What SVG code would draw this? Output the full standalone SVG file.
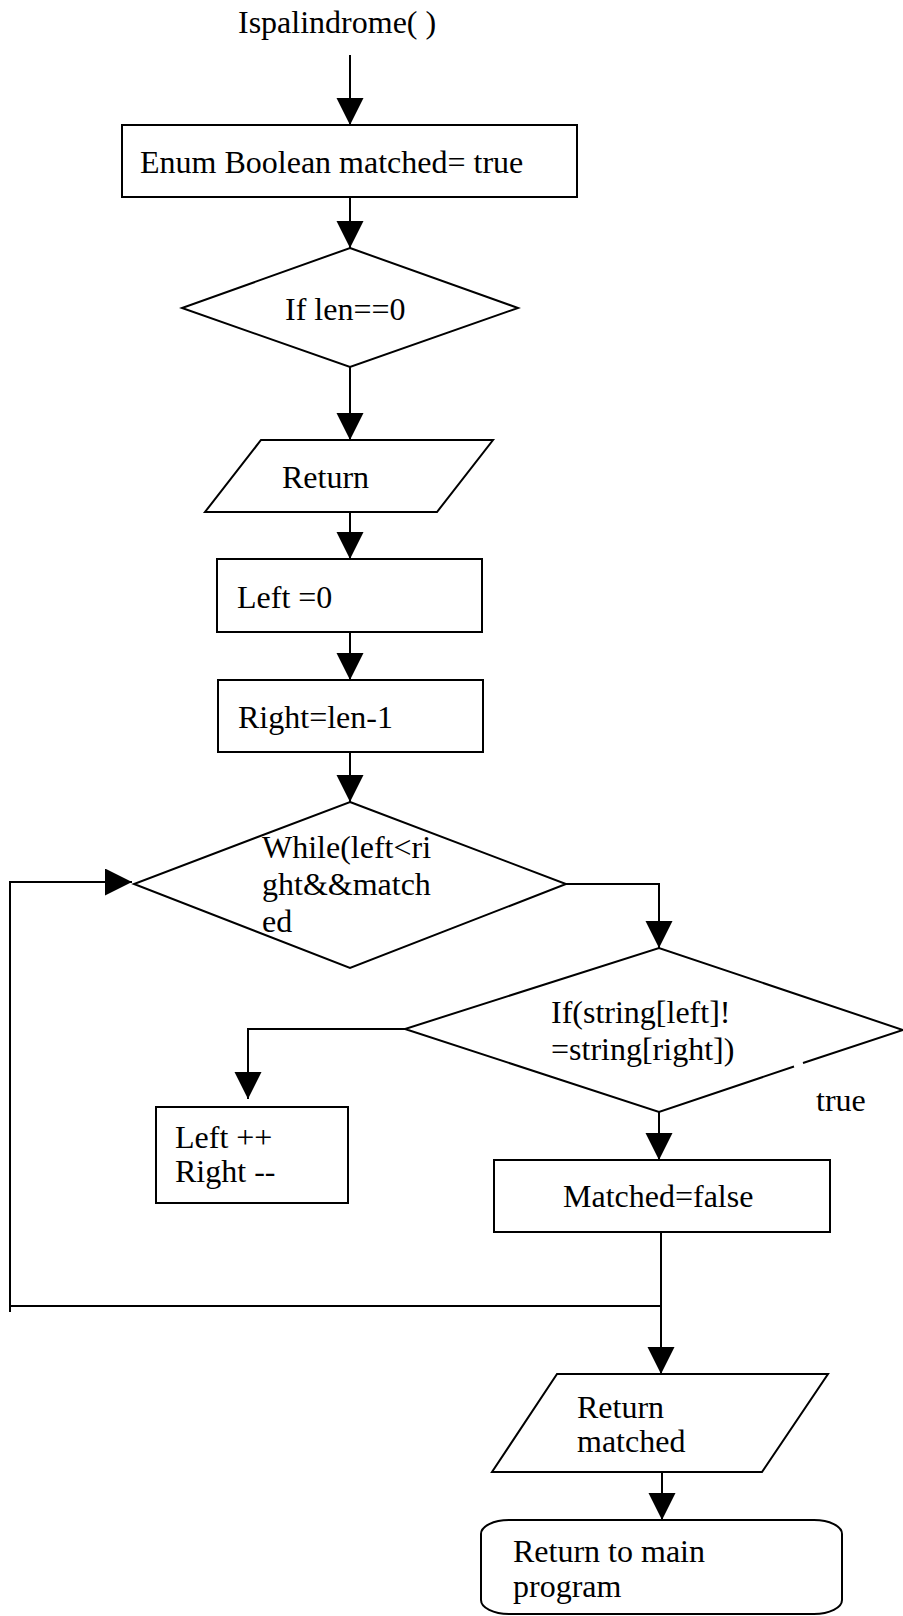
<svg xmlns="http://www.w3.org/2000/svg" width="903" height="1616" viewBox="0 0 903 1616">
  <style>
    .shape { fill: #ffffff; stroke: #000000; stroke-width: 2; }
    .conn { fill: none; stroke: #000000; stroke-width: 2; }
    .arrow { marker-end: url(#head); }
    text { font-family: "Liberation Serif", "Times New Roman", serif; font-size: 32px; fill: #000000; }
  </style>
  <defs>
    <marker id="head" markerUnits="userSpaceOnUse" markerWidth="28" markerHeight="28" refX="27" refY="13.5" orient="auto">
      <path d="M0,0 L27,13.5 L0,27 Z" fill="#000000"/>
    </marker>
  </defs>
  <rect x="0" y="0" width="903" height="1616" fill="#ffffff"/>

  <!-- flow connectors -->
  <g id="connectors">
    <line class="conn arrow" x1="350" y1="55" x2="350" y2="125"/>
    <line class="conn arrow" x1="350" y1="197" x2="350" y2="248"/>
    <line class="conn arrow" x1="350" y1="367" x2="350" y2="440"/>
    <line class="conn arrow" x1="350" y1="512" x2="350" y2="559"/>
    <line class="conn arrow" x1="350" y1="632" x2="350" y2="680"/>
    <line class="conn arrow" x1="350" y1="752" x2="350" y2="802"/>
    <polyline class="conn arrow" points="566,884 659,884 659,948"/>
    <polyline class="conn arrow" points="405,1029 248,1029 248,1099"/>
    <line class="conn arrow" x1="659" y1="1112" x2="659" y2="1160"/>
    <line class="conn arrow" x1="661" y1="1232" x2="661" y2="1374"/>
    <line class="conn" x1="661" y1="1306" x2="11" y2="1306"/>
    <polyline class="conn arrow" points="10,1312 10,882 132,882"/>
    <line class="conn arrow" x1="662" y1="1472" x2="662" y2="1520"/>
  </g>

  <g id="start">
    <text x="238" y="33">Ispalindrome( )</text>
  </g>

  <g id="init-matched">
    <rect class="shape" x="122" y="125" width="455" height="72"/>
    <text x="140" y="173">Enum Boolean matched= true</text>
  </g>

  <g id="check-len">
    <polygon class="shape" points="350,248 518,308 350,367 182,308"/>
    <text x="285" y="320">If len==0</text>
  </g>

  <g id="return-early">
    <polygon class="shape" points="261,440 493,440 437,512 205,512"/>
    <text x="282" y="488">Return</text>
  </g>

  <g id="init-left">
    <rect class="shape" x="217" y="559" width="265" height="73"/>
    <text x="237" y="608">Left =0</text>
  </g>

  <g id="init-right">
    <rect class="shape" x="218" y="680" width="265" height="72"/>
    <text x="238" y="728">Right=len-1</text>
  </g>

  <g id="while-loop">
    <polygon class="shape" points="350,802 566,884 350,968 134,884"/>
    <text x="262" y="858">While(left&lt;ri</text>
    <text x="262" y="895">ght&amp;&amp;match</text>
    <text x="262" y="932">ed</text>
  </g>

  <g id="compare-chars">
    <path d="M659,948 L903,1030 L803,1063 M794,1066.5 L659,1112 L405,1029 Z" fill="#ffffff" stroke="none"/>
    <path class="conn" d="M803,1063 L903,1030 L659,948 L405,1029 L659,1112 L794,1066.5"/>
    <text x="551" y="1023">If(string[left]!</text>
    <text x="551" y="1060">=string[right])</text>
    <text x="816" y="1111">true</text>
  </g>

  <g id="step">
    <rect class="shape" x="156" y="1107" width="192" height="96"/>
    <text x="175" y="1148">Left ++</text>
    <text x="175" y="1182">Right --</text>
  </g>

  <g id="set-false">
    <rect class="shape" x="494" y="1160" width="336" height="72"/>
    <text x="563" y="1207">Matched=false</text>
  </g>

  <g id="return-matched">
    <polygon class="shape" points="557,1374 828,1374 762,1472 492,1472"/>
    <text x="577" y="1418">Return</text>
    <text x="577" y="1452">matched</text>
  </g>

  <g id="end">
    <rect class="shape" x="481" y="1520" width="361" height="94" rx="28" ry="14"/>
    <text x="513" y="1562">Return to main</text>
    <text x="513" y="1597">program</text>
  </g>
</svg>
